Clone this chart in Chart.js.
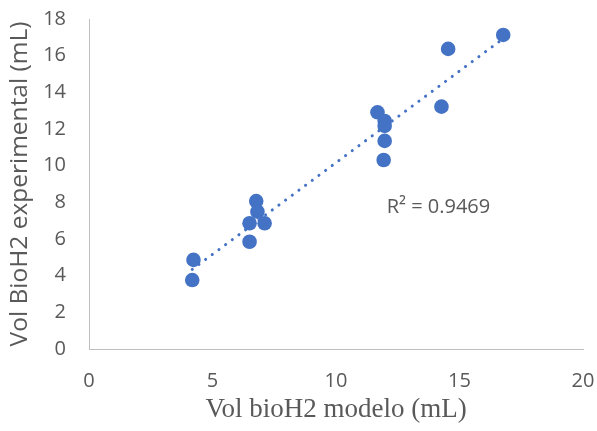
<!DOCTYPE html>
<html>
<head>
<meta charset="utf-8">
<script src="https://cdn.jsdelivr.net/npm/chart.js@4.4.1/dist/chart.umd.min.js"></script>
<style>
  html, body { margin: 0; padding: 0; background: #fff; }
  #wrap { width: 597px; height: 431px; }
</style>
</head>
<body>
<div id="wrap"><canvas id="chart"></canvas></div>
<script>
// ── Data ───────────────────────────────────────────────────────────────────
const modelVol = [4.23, 4.18, 6.50, 6.50, 7.11, 6.77, 6.82, 11.68, 11.97, 11.97, 11.97, 11.93, 14.27, 14.54, 16.77];
const expVol   = [4.86, 3.76, 5.85, 6.86, 6.86, 8.07, 7.49, 12.91, 12.44, 12.17, 11.35, 10.31, 13.22, 16.37, 17.13];
const xTicks = [0, 5, 10, 15, 20];
const yTicks = [0, 2, 4, 6, 8, 10, 12, 14, 16, 18];
const r2Label = "R² = 0.9469";
const r2Pos = { x: 12.05, y: 7.75 };

const BLUE = "#4472c4";
const GREY = "#595959";

// ── Linear trendline (least squares, over the data range) ─────────────────
function linFit(xs, ys) {
  const n = xs.length;
  const mx = xs.reduce((a, b) => a + b, 0) / n;
  const my = ys.reduce((a, b) => a + b, 0) / n;
  let sxy = 0, sxx = 0;
  xs.forEach((x, i) => { sxy += (x - mx) * (ys[i] - my); sxx += (x - mx) ** 2; });
  const slope = sxy / sxx;
  return { slope, icpt: my - slope * mx };
}

const fit = linFit(modelVol, expVol);
const xMin = Math.min(...modelVol), xMax = Math.max(...modelVol);
const trend = [xMin, xMax].map(x => ({ x, y: fit.slope * x + fit.icpt }));

// R² text placed in data space
const r2Plugin = {
  id: "r2",
  afterDatasetsDraw(chart) {
    const { ctx, scales: { x, y } } = chart;
    ctx.save();
    ctx.font = "20px 'Open Sans'";
    ctx.fillStyle = GREY;
    ctx.textAlign = "left";
    ctx.textBaseline = "middle";
    ctx.fillText(r2Label, x.getPixelForValue(r2Pos.x), y.getPixelForValue(r2Pos.y));
    ctx.restore();
  }
};

// keep the plot box where layout.padding says, ignore label overhang
function noOverhang(s) {
  s.paddingTop = s.paddingBottom = s.paddingLeft = s.paddingRight = 0;
}

new Chart(document.getElementById("chart"), {
  type: "scatter",
  data: {
    datasets: [
      {
        type: "line",
        data: trend,
        borderColor: BLUE,
        borderWidth: 3,
        borderDash: [0.1, 8.2],
        borderCapStyle: "round",
        pointRadius: 0,
        fill: false,
        order: 0,
      },
      {
        data: modelVol.map((x, i) => ({ x, y: expVol[i] })),
        backgroundColor: BLUE,
        borderColor: BLUE,
        borderWidth: 0,
        pointRadius: 7.3,
        order: 1,
      },
    ],
  },
  options: {
    responsive: true,
    maintainAspectRatio: false,
    animation: false,
    layout: { padding: { top: 19, right: 14, bottom: 0, left: 0 } },
    plugins: { legend: { display: false }, tooltip: { enabled: false } },
    scales: {
      x: {
        type: "linear",
        min: 0, max: 20,
        afterBuildTicks: s => { s.ticks = xTicks.map(v => ({ value: v })); },
        afterFit: s => { s.height = 82; noOverhang(s); },
        grid: { display: false, drawTicks: false },
        border: { display: true, color: "#bfbfbf", width: 1 },
        ticks: { padding: 20, color: GREY, font: { family: "'Open Sans'", size: 20 } },
        title: {
          display: true,
          text: "Vol bioH2 modelo (mL)",
          color: GREY,
          font: { family: "'Liberation Serif'", size: 27 },
          padding: { top: 0, bottom: 5 },
        },
      },
      y: {
        min: 0, max: 18,
        afterBuildTicks: s => { s.ticks = yTicks.map(v => ({ value: v })); },
        afterFit: s => { s.width = 89; noOverhang(s); },
        grid: { display: false, drawTicks: false },
        border: { display: true, color: "#bfbfbf", width: 1 },
        ticks: { padding: 23, color: GREY, font: { family: "'Open Sans'", size: 20 } },
        title: {
          display: true,
          text: "Vol BioH2 experimental (mL)",
          color: GREY,
          font: { family: "'Open Sans'", size: 24.5 },
          padding: { top: 5, bottom: 0 },
        },
      },
    },
  },
  plugins: [r2Plugin],
});
</script>
</body>
</html>
